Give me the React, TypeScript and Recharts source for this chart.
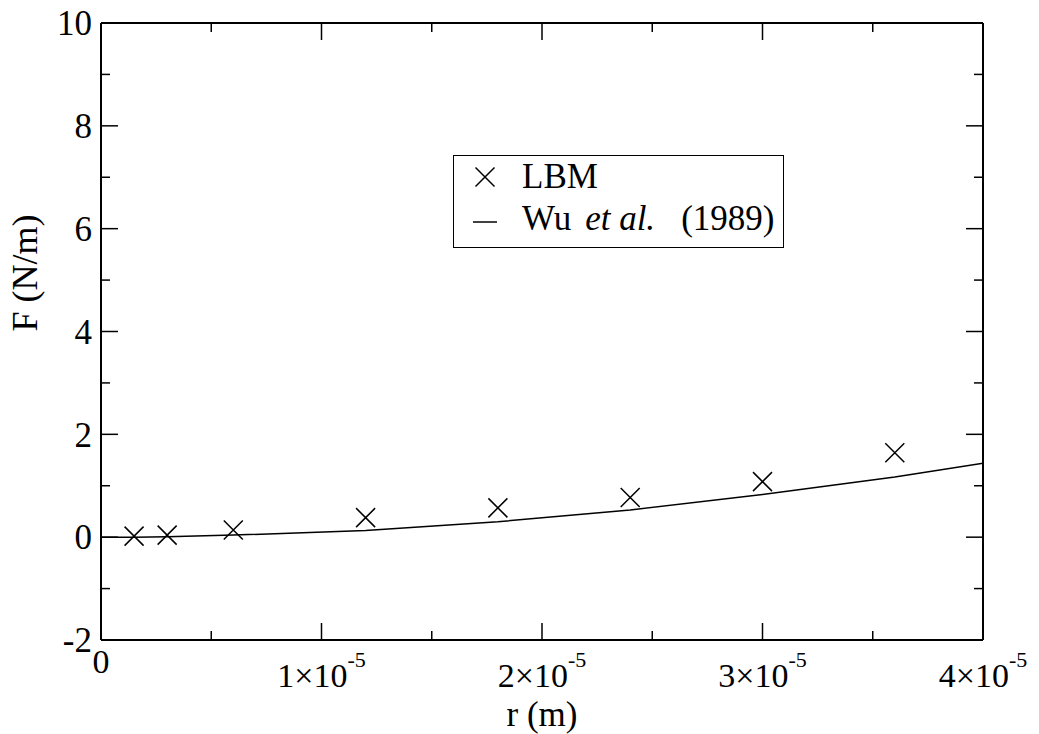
import { ComposedChart, Line, Scatter, XAxis, YAxis, Legend } from 'recharts';

// LBM simulation results (r in m, F in N/m)
const lbmR = [1.5e-6, 3e-6, 6e-6, 1.2e-5, 1.8e-5, 2.4e-5, 3e-5, 3.6e-5];
const lbmF = [0.02, 0.04, 0.14, 0.38, 0.57, 0.77, 1.08, 1.64];

// Wu et al. (1989) curve
const wuR = [0, 1.5e-6, 3e-6, 6e-6, 1.2e-5, 1.8e-5, 2.4e-5, 3e-5, 3.6e-5, 4e-5];
const wuF = [0, 0.0, 0.01, 0.04, 0.13, 0.3, 0.53, 0.83, 1.17, 1.44];

const xTicks = [0, 0.5e-5, 1e-5, 1.5e-5, 2e-5, 2.5e-5, 3e-5, 3.5e-5, 4e-5];
const yTicks = [-2, -1, 0, 1, 2, 3, 4, 5, 6, 7, 8, 9, 10];

const FONT = '"Liberation Serif", "DejaVu Serif", serif';
const MAJOR = 17;
const MINOR = 9;

const lbmData = lbmR.map((r, i) => ({ r, f: lbmF[i] }));
const wuData = wuR.map((r, i) => ({ r, f: wuF[i] }));

const isMajorX = (v: number) => Math.round(v / 0.5e-5) % 2 === 0;
const isMajorY = (v: number) => Math.round(v) % 2 === 0;

function BottomTick(props: any) {
  const { x, y, payload } = props;
  const v = payload.value;
  const major = isMajorX(v);
  const n = Math.round(v / 1e-5);
  return (
    <g>
      <line x1={x} x2={x} y1={y} y2={y - (major ? MAJOR : MINOR)} stroke="#000" strokeWidth={1.5} />
      {major &&
        (n === 0 ? (
          <text x={x} y={y + 33} textAnchor="middle" fontFamily={FONT} fontSize={34} fill="#000">
            0
          </text>
        ) : (
          <text x={x} y={y + 47} textAnchor="middle" fontFamily={FONT} fontSize={34} fill="#000">
            {n}×10
            <tspan dy={-20} fontSize={22}>
              -5
            </tspan>
          </text>
        ))}
    </g>
  );
}

function TopTick(props: any) {
  const { x, y, payload } = props;
  const major = isMajorX(payload.value);
  return <line x1={x} x2={x} y1={y} y2={y + (major ? MAJOR : MINOR)} stroke="#000" strokeWidth={1.5} />;
}

function LeftTick(props: any) {
  const { x, y, payload } = props;
  const v = payload.value;
  const major = isMajorY(v);
  return (
    <g>
      <line x1={x} x2={x + (major ? MAJOR : MINOR)} y1={y} y2={y} stroke="#000" strokeWidth={1.5} />
      {major && (
        <text x={x - 9} y={y} dy="0.35em" textAnchor="end" fontFamily={FONT} fontSize={35} fill="#000">
          {v}
        </text>
      )}
    </g>
  );
}

function RightTick(props: any) {
  const { x, y, payload } = props;
  const major = isMajorY(payload.value);
  return <line x1={x} x2={x - (major ? MAJOR : MINOR)} y1={y} y2={y} stroke="#000" strokeWidth={1.5} />;
}

function Cross(props: any) {
  const { cx, cy } = props;
  const s = 9.5;
  return (
    <path
      d={`M${cx - s},${cy - s}L${cx + s},${cy + s}M${cx - s},${cy + s}L${cx + s},${cy - s}`}
      stroke="#000"
      strokeWidth={1.5}
      fill="none"
    />
  );
}

function LegendBox() {
  return (
    <div
      style={{
        position: 'relative',
        boxSizing: 'border-box',
        width: 331,
        height: 93,
        border: '1.5px solid #000',
        background: '#fff',
        fontFamily: FONT,
        fontSize: 35,
        lineHeight: '42px',
        color: '#000',
        whiteSpace: 'nowrap',
      }}
    >
      <svg width={60} height={90} style={{ position: 'absolute', left: 0, top: 0 }}>
        <path d="M21.5,11.5L40.5,30.5M21.5,30.5L40.5,11.5" stroke="#000" strokeWidth={1.5} />
        <line x1={19} x2={43} y1={66} y2={66} stroke="#000" strokeWidth={1.5} />
      </svg>
      <div style={{ paddingLeft: 68 }}>LBM</div>
      <div style={{ paddingLeft: 68 }}>
        Wu<span style={{ fontStyle: 'italic', marginLeft: 14 }}>et al.</span>
        <span style={{ marginLeft: 26 }}>(1989)</span>
      </div>
    </div>
  );
}

export default function App() {
  return (
    <div style={{ position: 'absolute', left: 0, top: 0, background: '#fff' }}>
      <ComposedChart width={1039} height={734} margin={{ top: 22, right: 55, left: 0, bottom: 0 }}>
        <XAxis
          dataKey="r"
          type="number"
          domain={[0, 4e-5]}
          ticks={xTicks}
          interval={0}
          allowDataOverflow
          height={94}
          tickSize={0}
          tickMargin={0}
          tickLine={false}
          tick={<BottomTick />}
          axisLine={{ stroke: '#000', strokeWidth: 2 }}
          label={{ value: 'r (m)', position: 'insideBottom', offset: 8, fontFamily: FONT, fontSize: 35, fill: '#000' }}
        />
        <XAxis
          xAxisId="top"
          orientation="top"
          dataKey="r"
          type="number"
          domain={[0, 4e-5]}
          ticks={xTicks}
          interval={0}
          allowDataOverflow
          height={1}
          tickSize={0}
          tickMargin={0}
          tickLine={false}
          tick={<TopTick />}
          axisLine={{ stroke: '#000', strokeWidth: 2 }}
        />
        <YAxis
          type="number"
          domain={[-2, 10]}
          ticks={yTicks}
          interval={0}
          allowDataOverflow
          width={101}
          tickSize={0}
          tickMargin={0}
          tickLine={false}
          tick={<LeftTick />}
          axisLine={{ stroke: '#000', strokeWidth: 2 }}
          label={{ value: 'F (N/m)', angle: -90, position: 'insideLeft', offset: 24, fontFamily: FONT, fontSize: 36, fill: '#000' }}
        />
        <YAxis
          yAxisId="right"
          orientation="right"
          type="number"
          domain={[-2, 10]}
          ticks={yTicks}
          interval={0}
          allowDataOverflow
          width={1}
          tickSize={0}
          tickMargin={0}
          tickLine={false}
          tick={<RightTick />}
          axisLine={{ stroke: '#000', strokeWidth: 2 }}
        />
        <Line
          data={wuData}
          dataKey="f"
          type="linear"
          stroke="#000"
          strokeWidth={1.5}
          dot={false}
          activeDot={false}
          isAnimationActive={false}
          legendType="none"
        />
        <Scatter data={lbmData} dataKey="f" shape={<Cross />} isAnimationActive={false} legendType="none" />
        <Legend
          layout="vertical"
          align="center"
          verticalAlign="middle"
          content={<LegendBox />}
          wrapperStyle={{ left: 453, top: 155, width: 331, height: 93 }}
        />
      </ComposedChart>
    </div>
  );
}
